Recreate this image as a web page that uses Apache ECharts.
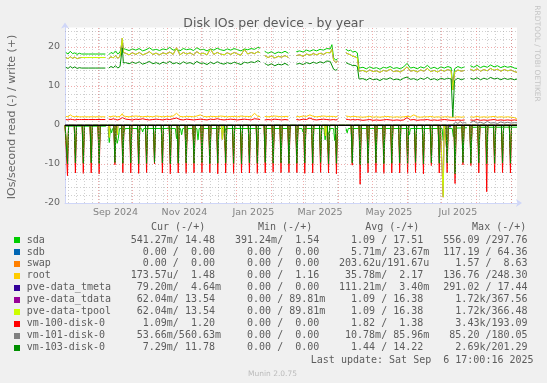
<!DOCTYPE html>
<html><head><meta charset="utf-8">
<script src="https://cdn.jsdelivr.net/npm/echarts@6/dist/echarts.min.js"></script>
<style>html,body{margin:0;padding:0;background:#F0F0F0}#c{width:547px;height:383px}</style>
</head><body><div id="c"></div>
<script>
// ---- time base: days since 2024-08-03 00:00 ----
const dayMin = -0.7, dayMax = 399.3;
const monthStarts = ['2024-09-01','2024-10-01','2024-11-01','2024-12-01','2025-01-01','2025-02-01','2025-03-01','2025-04-01','2025-05-01','2025-06-01','2025-07-01','2025-08-01','2025-09-01'];
const xTickLabels = ['Sep 2024','Nov 2024','Jan 2025','Mar 2025','May 2025','Jul 2025'];
const xTickMonths = ['2024-09-01','2024-11-01','2025-01-01','2025-03-01','2025-05-01','2025-07-01'];
const firstMonday = 2;
const yTicksMajor = [-10, 0, 10, 20];
const yTicksMinor = [-18,-16,-14,-12,-8,-6,-4,-2,2,4,6,8,12,14,16,18,22,24];

// ---- write side (+), shared day list ----
const wDays = [0,2,4,6,8,10,12,
 14,20,26,32,35,
 36.5,
 38,40,42,44,46,48,
 50,51,
 53,56,59,62,65,68,71,74,77,80,83,86,89,92,95,98,101,104,107,110,113,116,119,122,125,128,131,134,137,140,143,146,149,152,155,158,161,164,167,170,172,
 174,
 176,179,182,185,188,191,194,197,
 200.5,
 204,207,210,213,216,219,222,225,228,231,234,235.5,237,239,240.5,
 244,
 248,250,252,254,256,258,
 259.5,
 260,263,266,269,272,275,278,281,284,287,290,293,296,299,302,305,308,311,314,317,320,323,326,329,332,335,338,341,
 342.5,
 344,347,350,353,
 356,
 358,361,364,367,370,373,376,379,382,385,388,391,394,397,399.3];

const sdaW = [18.6,18.2,18.9,18.3,18.5,18.1,18.4,
 18.2,18.2,18.2,18.2,18.2,
 null,
 18.0,18.6,18.3,19.0,18.2,18.7,
 21.0,19.6,
 19.4,19.1,19.5,19.2,19.6,19.0,19.3,19.8,19.2,19.4,19.1,19.5,19.3,19.9,19.2,19.4,19.0,19.6,19.3,19.5,19.1,19.8,19.3,19.4,19.0,19.5,19.2,19.7,19.3,19.1,19.5,19.2,19.6,19.3,19.0,19.5,19.3,19.6,19.4,19.9,19.7,
 null,
 18.9,18.4,18.8,18.3,18.7,18.5,18.9,18.4,
 null,
 18.8,19.0,18.7,19.2,18.9,19.3,19.0,19.4,19.2,19.6,19.5,20.6,17.2,16.6,17.0,
 null,
 19.4,19.0,19.2,18.7,18.9,18.5,
 14.6,
 14.5,14.8,14.4,14.9,14.5,14.7,14.3,14.8,14.6,15.0,14.5,14.7,14.4,14.9,15.8,14.6,14.8,14.4,14.9,14.6,15.3,14.5,14.8,14.4,14.9,14.6,15.0,14.7,
 9.8,
 14.4,15.0,14.6,14.9,
 null,
 15.2,14.8,15.3,14.7,15.1,14.8,15.4,14.9,15.2,14.7,15.1,14.8,15.0,14.6,14.5];

const tpoolW = [17.3,17.0,17.5,17.1,17.4,17.0,17.2,
 17.3,17.3,17.3,17.3,17.3,
 null,
 17.0,17.5,17.2,17.8,17.1,17.6,
 22.3,18.6,
 18.4,18.0,18.5,18.1,18.6,18.0,18.3,18.8,18.1,18.4,18.0,18.5,18.2,18.7,18.1,19.8,18.0,18.6,18.2,18.5,18.0,18.8,18.2,18.4,18.0,19.5,18.1,18.6,18.2,18.0,18.5,18.1,18.6,18.2,17.9,19.4,18.2,18.6,18.3,18.8,18.5,
 null,
 17.8,17.3,17.7,17.2,17.6,17.4,17.8,17.3,
 null,
 17.8,18.0,17.6,18.2,17.9,18.3,18.0,18.4,18.1,18.6,18.5,19.4,16.6,16.0,16.4,
 null,
 18.5,18.2,18.0,17.6,17.5,17.2,
 13.8,
 13.7,14.0,13.6,14.1,13.7,13.9,13.5,14.0,13.8,14.3,13.7,13.9,13.6,14.1,14.9,13.8,14.0,13.6,14.1,13.8,14.5,13.7,14.0,13.6,14.1,13.8,14.2,13.9,
 9.0,
 13.5,14.1,13.8,14.0,
 null,
 14.3,13.9,14.4,13.8,14.2,13.9,14.5,14.0,14.3,13.8,14.2,13.9,14.1,13.7,13.5];

const vm103W = [14.8,14.5,15.0,14.6,14.9,14.5,14.7,
 14.6,14.6,14.6,14.6,14.6,
 null,
 14.6,15.0,14.7,15.2,14.6,15.0,
 19.8,15.9,
 16.0,15.7,16.1,15.8,16.2,15.6,15.9,16.3,15.7,16.0,15.6,16.1,15.8,16.3,15.7,16.0,15.6,16.2,15.8,16.0,15.6,16.3,15.8,15.9,15.5,16.1,15.7,16.2,15.8,15.6,16.0,15.7,16.1,15.8,15.5,16.1,15.9,16.2,16.0,16.5,16.2,
 null,
 15.8,15.3,15.7,15.2,15.6,15.4,15.8,15.3,
 null,
 15.6,15.8,15.5,16.0,15.7,16.1,15.8,16.2,15.9,16.4,16.3,16.8,14.3,14.0,14.4,
 null,
 16.0,15.7,15.5,15.2,15.3,15.0,
 11.8,
 11.6,11.9,11.5,12.0,11.6,11.8,11.4,11.9,11.7,12.1,11.6,11.8,11.5,12.0,12.3,11.7,11.9,11.5,12.0,11.7,12.2,11.6,11.9,11.5,12.0,11.7,12.0,11.8,
 2.1,
 11.4,12.0,11.6,11.9,
 null,
 12.0,11.7,12.1,11.6,12.0,11.7,12.2,11.8,12.0,11.6,12.0,11.7,11.9,11.6,11.8];

const rootW = [2.2,2.1,2.6,2.2,2.1,2.2,2.1,
 2.1,2.1,2.1,2.1,2.1,
 null,
 2.2,2.1,2.3,2.2,2.1,2.2,
 2.9,2.3,
 2.2,2.1,2.2,2.3,2.2,2.1,2.2,2.2,2.1,2.3,2.2,2.1,2.2,2.2,2.3,3.0,2.2,2.1,2.2,2.2,2.1,2.3,2.6,2.2,2.1,2.2,2.2,2.1,2.3,2.2,2.1,2.2,2.2,2.1,2.3,2.2,2.2,2.1,3.0,2.2,2.2,
 null,
 2.2,2.1,2.2,2.3,2.2,2.1,2.2,2.2,
 null,
 2.2,2.1,2.3,2.2,2.6,2.2,2.1,2.2,2.3,2.2,2.2,2.4,2.2,2.1,2.2,
 null,
 2.3,2.2,2.1,2.2,2.2,2.1,
 2.1,
 2.1,2.0,2.1,2.2,2.0,2.1,2.0,2.1,2.2,2.1,2.0,2.1,2.0,2.1,2.2,2.1,2.6,2.1,2.0,2.1,2.1,2.2,2.0,2.1,2.0,2.1,2.1,2.0,
 1.6,
 2.0,2.1,2.0,2.1,
 null,
 2.1,2.0,2.2,2.0,2.1,2.0,2.1,2.2,2.0,2.1,2.0,2.1,2.0,1.9,1.5];

const vm100W = [1.4,1.3,1.5,1.4,1.3,1.4,1.4,
 1.4,1.4,1.4,1.4,1.4,
 null,
 1.5,1.4,1.6,1.4,1.3,1.5,
 1.9,1.5,
 1.5,1.4,1.3,1.5,1.4,1.6,1.4,1.3,1.4,1.5,1.4,1.3,1.5,1.4,1.6,1.8,1.4,1.3,1.5,1.4,1.3,1.4,1.5,1.4,1.3,1.5,1.4,1.6,1.4,1.3,1.4,1.5,1.4,1.3,1.4,1.5,1.4,1.3,1.6,1.5,1.4,
 null,
 1.3,1.4,1.3,1.5,1.4,1.3,1.4,1.3,
 null,
 1.4,1.3,1.5,1.4,1.8,1.4,1.3,1.4,1.5,1.4,1.3,1.6,1.4,1.3,1.4,
 null,
 1.5,1.4,1.3,1.4,1.3,1.4,
 1.3,
 1.3,1.2,1.3,1.4,1.2,1.3,1.2,1.3,1.4,1.3,1.2,1.3,1.2,1.3,1.9,1.3,1.4,1.2,1.3,1.3,1.4,1.2,1.3,1.2,1.3,1.4,1.3,1.2,
 1.0,
 1.2,1.3,1.2,1.3,
 null,
 1.3,1.2,1.4,1.2,1.3,1.2,1.3,1.4,1.2,1.3,1.2,1.3,1.2,1.3,1.2];

const vm101W = [[-0.7,0],[342,0],[343,0.4],[345,0.7],[347,0.4],[349,0.9],[351,0.5],[353,0.6],[354.5,0.5],[356,null],[358,0.6],[361,1.0],[364,0.5],[367,0.7],[370,0.4],[373,0.9],[376,0.5],[379,0.6],[382,0.4],[385,0.8],[388,0.5],[391,0.7],[394,0.5],[397,0.6],[399.3,0.56]];
const zeroLine = [[-0.7,0],[399.3,0]];

// ---- read side (-): weekly job (Sundays) peaks ----
const firstSpikeDay = 1.5, spikeEvery = 7;
const vm100RPeaks = [13.0,12.3,12.4,12.3,12.5,null,10.2,12.3,12.3,12.4, 12.3,10.0,12.3,12.5,12.3,12.4,12.3,12.2,12.3,12.5, 12.3,12.4,12.3,12.3,12.4,12.3,12.0,12.3,12.2,12.3, 12.4,12.3,12.2,12.3,12.5,null,10.3,15.2,12.3,12.2, 12.4,12.3,12.3,12.4,12.2,12.5,10.4,12.3,12.3,15.0, 10.2,10.4,12.3,17.1,12.3,12.2,12.3];
const vm103RPeaks = [9.9,9.7,9.8,9.7,9.9,null,9.6,9.8,9.7,9.9, 9.8,9.6,9.7,9.9,9.8,9.7,9.8,9.6,9.9,9.8, 9.7,9.8,9.9,9.7,9.8,9.6,9.8,9.7,9.9,9.8, 9.7,9.8,9.6,9.9,9.8,null,9.7,10.2,9.8,9.7, 9.9,9.8,9.7,9.8,9.6,9.9,9.7,9.8,9.7,12.5, 9.6,9.8,9.7,9.9,9.8,9.7,9.8];
const tpoolRPeaks = [7.6,7.3,7.5,7.4,7.7,null,7.2,7.5,7.4,7.6, 7.5,7.3,7.4,7.6,7.5,7.3,7.5,7.4,7.6,7.5, 7.3,7.4,7.6,7.5,7.4,7.3,7.5,7.4,7.6,7.5, 7.4,7.5,7.3,7.6,7.5,null,7.4,8.0,7.5,7.4, 7.6,7.5,7.4,7.5,7.3,7.6,7.4,7.5,7.4,8.5, 7.3,7.5,7.4,7.6,7.5,7.4,7.5];
const tpoolRExtra = [[38,0.05],[38.5,3.2],[39,0.05],[45,0.05],[45.6,2.5],[46.2,0.05],[137.6,0.05],[138.5,3.7],[139.4,0.05],[229,0.05],[229.7,2.8],[230.4,0.05],[333.2,0.05],[334,18.5],[334.8,0.05]];
const tmetaRExtra = [[59.5,0],[60,0.5],[60.5,0],[100,0],[100.5,0.4],[101,0],[209.5,0],[210,0.5],[210.5,0],[299.5,0],[300,0.4],[300.5,0],[339.5,0],[340,0.6],[340.5,0]];
const sdaR = [[-0.7,0.3],[35.5,0.3],[36.5,null],[37.5,0.9],
 [38.5,4.5],[39.5,0.9],[40.5,2.0],[41.5,0.9],[43.5,0.9],[44.5,3.0],[45.5,4.7],[46.5,3.4],[47.5,0.9],[50.5,0.9],[51.5,1.8],[52.5,0.9],
 [63,0.9],[64,2.0],[65,0.9],[67,0.9],[68,1.8],[69,0.9],
 [97,0.9],[98,3.5],[99,0.9],[101.5,0.9],[102.5,2.5],[103.5,0.9],[106,0.9],[107,4.0],[108,0.9],[112,0.9],[113,3.0],[114,0.9],[116,0.9],[117,3.8],[118,0.9],
 [139.5,0.9],[140.5,2.2],[141.5,0.9],
 [173,0.9],[174,null],[176,0.9],
 [199.5,0.9],[200.5,null],[204,0.9],[205,2.0],[206,0.9],[209,0.9],[210,1.8],[211,0.9],
 [228.5,0.9],[229.5,3.8],[230.5,0.9],[232,0.9],[233,2.5],[234,0.9],[237,0.9],[238,4.0],[239,0.9],[240.5,0.9],[244,null],[248,0.9],[249,2.0],[250,0.9],
 [303,0.9],[304,2.5],[305,0.9],
 [333,0.9],[334,4.0],[335,0.9],[342,0.9],[343,3.0],[344,0.8],
 [355,0.7],[356,null],[358,0.6],[399.3,0.55]];

// ---- legend table ----
const legNames = ['sda','sdb','swap','root','pve-data_tmeta','pve-data_tdata','pve-data-tpool','vm-100-disk-0','vm-101-disk-0','vm-103-disk-0'];
const legColors = ['#00CC00','#0066B3','#FF8000','#FFCC00','#330099','#990099','#CCFF00','#FF0000','#808080','#008F00'];
const legCur = ['541.27m/ 14.48','  0.00 /  0.00','  0.00 /  0.00','173.57u/  1.48',' 79.20m/  4.64m',' 62.04m/ 13.54',' 62.04m/ 13.54','  1.09m/  1.20',' 53.66m/560.63m','  7.29m/ 11.78'];
const legMin = ['391.24m/  1.54','  0.00 /  0.00','  0.00 /  0.00','  0.00 /  1.16','  0.00 /  0.00','  0.00 / 89.81m','  0.00 / 89.81m','  0.00 /  0.00','  0.00 /  0.00','  0.00 /  0.00'];
const legAvg = ['  1.09 / 17.51','  5.71m/ 23.67m','203.62u/191.67u',' 35.78m/  2.17','111.21m/  3.40m','  1.09 / 16.38','  1.09 / 16.38','  1.82 /  1.38',' 10.78m/ 85.96m','  1.44 / 14.22'];
const legMax = ['556.09 /297.76','117.19 / 64.36','  1.57 /  8.63','136.76 /248.30','291.02 / 17.44','  1.72k/367.56','  1.72k/366.48','  3.43k/193.09',' 85.20 /180.05','  2.69k/201.29'];
const legHeaders = ['Cur (-/+)','Min (-/+)','Avg (-/+)','Max (-/+)'];
const lastUpdate = 'Last update: Sat Sep  6 17:00:16 2025';

// ---- build ----
[sdaW,tpoolW,vm103W,rootW,vm100W].forEach(a=>{ if(a.length!==wDays.length) throw new Error('length mismatch '+a.length+' vs '+wDays.length); });
[vm100RPeaks,vm103RPeaks,tpoolRPeaks].forEach(a=>{ if(a.length!==57) throw new Error('peaks '+a.length); });
const base0 = Date.UTC(2024,7,3);
const toDay = s => (Date.parse(s+'T00:00:00Z') - base0)/86400000;
const zipW = arr => wDays.map((d,i)=>[d, arr[i]]);
function readLine(base, peaks, extras){
  const pts=[[dayMin,base],[dayMax,base]];
  (peaks||[]).forEach((p,k)=>{ if(p==null) return; const d=firstSpikeDay+spikeEvery*k; pts.push([d-1,base],[d,p],[d+1,base]); });
  (extras||[]).forEach(e=>pts.push(e));
  pts.sort((a,b)=>a[0]-b[0]);
  return pts.map(p=>[p[0], p[1]==null?null:-p[1]]);
}
const neg = arr => arr.map(p=>[p[0], p[1]==null?null:-p[1]]);

const seriesData = [
  ['sda', neg(sdaR), zipW(sdaW)],
  ['sdb', zeroLine, zeroLine],
  ['swap', zeroLine, zeroLine],
  ['root', zeroLine, zipW(rootW)],
  ['pve-data_tmeta', readLine(0.0,null,tmetaRExtra), zeroLine],
  ['pve-data_tdata', readLine(0.05,tpoolRPeaks,tpoolRExtra), zipW(tpoolW)],
  ['pve-data-tpool', readLine(0.05,tpoolRPeaks,tpoolRExtra), zipW(tpoolW)],
  ['vm-100-disk-0', readLine(0.05,vm100RPeaks,null), zipW(vm100W)],
  ['vm-101-disk-0', zeroLine, vm101W],
  ['vm-103-disk-0', readLine(0.05,vm103RPeaks,null), zipW(vm103W)]
];

const series = [];
const dash = [1,2];
// grid lines
const minorV=[]; for(let d=firstMonday; d<dayMax; d+=7) minorV.push({xAxis:d});
series.push({type:'line', data:[], silent:true, z:1, markLine:{silent:true, symbol:['none','none'], label:{show:false}, animation:false,
  lineStyle:{color:'rgba(150,150,150,0.45)', type:dash, width:1},
  data: minorV.concat(yTicksMinor.map(v=>({yAxis:v})))}});
series.push({type:'line', data:[], silent:true, z:1, markLine:{silent:true, symbol:['none','none'], label:{show:false}, animation:false,
  lineStyle:{color:'rgba(225,90,90,0.5)', type:dash, width:1},
  data: monthStarts.map(s=>({xAxis:toDay(s)})).concat(yTicksMajor.map(v=>({yAxis:v})))}});

seriesData.forEach((s,i)=>{
  [s[1], s[2]].forEach(dat=>{
    series.push({type:'line', name:s[0], data:dat, showSymbol:false, symbol:'none', silent:true, z:2,
      lineStyle:{color:legColors[i], width:1}, connectNulls:false, animation:false, emphasis:{disabled:true}});
  });
});
// zero rule
series.push({type:'line', data:[], silent:true, z:3, markLine:{silent:true, symbol:['none','none'], label:{show:false}, animation:false,
  lineStyle:{color:'#000000', type:'solid', width:1}, data:[{yAxis:0}]}});
// x tick labels (centered mid-month)
series.push({type:'scatter', data: xTickMonths.map((m,i)=>[toDay(m)+15, -20, xTickLabels[i]]), symbolSize:0, silent:true, clip:false, z:4,
  label:{show:true, position:'bottom', distance:5, formatter:p=>p.value[2], color:'#666666', fontSize:9.5, fontFamily:'DejaVu Sans'}});

// graphic texts
const mono = '10px "DejaVu Sans Mono"';
const txtCol = '#5c5c5c';
const graphic = [];
const rowY0 = 240, rowH = 11.95;
const colX = [130.7, 235, 339, 443.3];
const hdrX = [151, 258, 365.2, 472.1];
legHeaders.forEach((h,i)=>graphic.push({type:'text', x:hdrX[i], y:227.3, silent:true, style:{text:h, font:mono, fill:txtCol, textAlign:'left', textVerticalAlign:'middle', align:'left', verticalAlign:'middle'}}));
legNames.forEach((n,i)=>{
  const y = rowY0 + rowH*i;
  graphic.push({type:'rect', silent:true, shape:{x:14, y:Math.round(y)-3, width:6, height:6}, style:{fill:legColors[i]}});
  graphic.push({type:'text', x:26.7, y:y, silent:true, style:{text:n, font:mono, fill:txtCol, textVerticalAlign:'middle', verticalAlign:'middle'}});
  [legCur, legMin, legAvg, legMax].forEach((col,j)=>{
    graphic.push({type:'text', x:colX[j], y:y, silent:true, style:{text:col[i], font:mono, fill:txtCol, textVerticalAlign:'middle', verticalAlign:'middle'}});
  });
});
graphic.push({type:'text', x:310.8, y:360.2, silent:true, style:{text:lastUpdate, font:mono, fill:txtCol, textVerticalAlign:'middle', verticalAlign:'middle'}});
graphic.push({type:'text', x:272.5, y:373.8, silent:true, style:{text:'Munin 2.0.75', font:'7.5px "DejaVu Sans"', fill:'#BBBBBB', textAlign:'center', align:'center', textVerticalAlign:'middle', verticalAlign:'middle'}});
graphic.push({type:'text', x:12, y:117, rotation:Math.PI/2, silent:true, style:{text:'IOs/second read (-) / write (+)', font:'11px "DejaVu Sans"', fill:'#666666', textAlign:'center', align:'center', textVerticalAlign:'middle', verticalAlign:'middle'}});
graphic.push({type:'text', x:537, y:53.5, rotation:-Math.PI/2, silent:true, style:{text:'RRDTOOL / TOBI OETIKER', font:'7.5px "DejaVu Sans"', fill:'#C4C4C4', textAlign:'center', align:'center', textVerticalAlign:'middle', verticalAlign:'middle'}});

const axisCol = '#CFD6F8';
const chart = echarts.init(document.getElementById('c'), null, {renderer:'canvas', width:547, height:383});
chart.setOption({
  backgroundColor:'#F0F0F0',
  animation:false,
  title:{text:'Disk IOs per device - by year', left:'center', top:12, textStyle:{color:'#5a5a5a', fontSize:12.5, fontWeight:'normal', fontFamily:'DejaVu Sans'}},
  grid:{left:65, right:30, top:27.5, bottom:180, show:true, backgroundColor:'#FFFFFF', borderWidth:0},
  xAxis:{type:'value', min:dayMin, max:dayMax,
    axisLine:{show:true, onZero:false, lineStyle:{color:axisCol, width:1}, symbol:['none','arrow'], symbolSize:[6,6], symbolOffset:[0,5]},
    axisTick:{show:false}, axisLabel:{show:false}, splitLine:{show:false}},
  yAxis:{type:'value', min:-20, max:25, interval:10,
    axisLine:{show:true, onZero:false, lineStyle:{color:axisCol, width:1}, symbol:['none','arrow'], symbolSize:[6,6], symbolOffset:[0,5]},
    axisTick:{show:false}, splitLine:{show:false},
    axisLabel:{color:'#666666', fontSize:9.5, fontFamily:'DejaVu Sans', margin:5, showMaxLabel:false}},
  graphic: graphic,
  series: series
});
</script></body></html>
